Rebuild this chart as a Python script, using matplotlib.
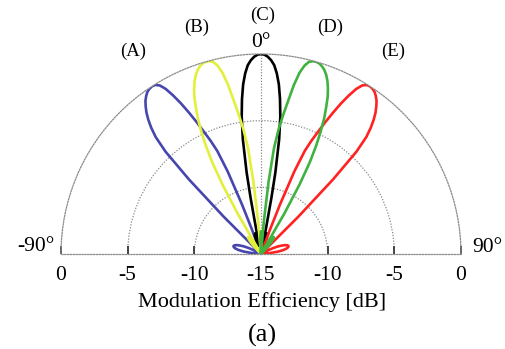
import numpy as np
import matplotlib
matplotlib.use("Agg")
import matplotlib.pyplot as plt
from matplotlib.transforms import offset_copy

plt.rcParams['font.family'] = ['Liberation Serif', 'DejaVu Serif']

# lobe outlines: angle [deg], efficiency [dB]
ang_a = [-86, -84, -82, -80, -78, -76, -74, -72, -70, -68, -66, -64, -62, -60, -58,
         -46, -45, -44, -43, -42, -41, -40, -39, -38, -37, -36, -35, -34, -33,
         -32, -31, -30, -29, -28, -27, -26, -25, -24, -23, -22, -21, -20.3, -20]
db_a = [-15, -14.3, -13.7, -13.3, -13.05, -12.9, -12.85, -12.9, -13.05, -13.3, -13.6, -14.0, -14.4, -14.8, -15,
        -15, -11, -7.2, -4.5, -3.2, -2.45, -1.85, -1.35, -0.95, -0.6, -0.35, -0.15, -0.05, 0,
        -0.05, -0.25, -0.7, -1.4, -2.2, -3.1, -4.0, -4.9, -5.7, -6.6, -8.3, -11, -13, -15]

ang_b = [-45, -43, -41, -39, -37, -35, -33, -32,
         -31, -30, -29, -28, -27, -26, -25, -24, -23, -22, -21, -20, -19, -18, -17, -16,
         -15, -14, -13, -12, -11, -10, -9, -8, -7, -6, -5, -4.5,
         -3, -2, -1, 0, 1, 2, 3, 4.5]
db_b = [-15, -14.3, -13.8, -13.5, -13.4, -13.6, -14.2, -15,
        -15, -11.5, -9, -7.2, -5.9, -4.8, -3.8, -3.0, -2.2, -1.6, -1.1, -0.7, -0.4, -0.2, -0.05, 0,
        -0.03, -0.15, -0.5, -1.1, -2.1, -3.4, -4.5, -5.6, -7.0, -9.5, -12.5, -15,
        -14, -13.7, -13.4, -13.3, -13.5, -13.8, -14.3, -15]

ang_c = [-22, -20, -18, -16.5, -15, -13, -11.5, -11, -10.5, -10, -9, -8, -7, -6, -5, -4, -3, -2, -1, 0,
         1, 2, 3, 4, 5, 6, 7, 8, 9, 10, 10.5, 11, 11.5, 13, 15, 16.5, 18, 20, 22]
db_c = [-15, -14, -13.5, -13.4, -13.6, -14.3, -15, -13, -10.7, -8.8, -6.3, -4.6, -3.3, -2.2, -1.4, -0.8, -0.45, -0.2, -0.05, 0,
        -0.05, -0.2, -0.45, -0.8, -1.4, -2.2, -3.3, -4.6, -6.3, -8.8, -10.7, -13, -15, -14.3, -13.6, -13.4, -13.5, -14, -15]

ang_d = [-4.5, -3, -2, -1, 0, 1, 2, 3, 4.5,
         5, 6, 7, 8, 9, 10, 11, 12, 13, 14, 15,
         16, 17, 18, 19, 20, 21, 22, 23, 24, 25, 26, 27, 28, 29, 30, 31,
         32, 33, 35, 37, 39, 41, 43, 45]
db_d = [-15, -14.3, -13.8, -13.5, -13.3, -13.4, -13.7, -14, -15,
        -12.5, -9.5, -7.0, -5.6, -4.5, -3.4, -2.1, -1.1, -0.5, -0.15, -0.03,
        0, -0.05, -0.2, -0.4, -0.7, -1.1, -1.6, -2.2, -3.0, -3.8, -4.8, -5.9, -7.2, -9, -11.5, -15,
        -15, -14.2, -13.6, -13.4, -13.5, -13.8, -14.3, -15]

ang_e = [20, 20.3, 21, 22, 23, 24, 25, 26, 27, 28, 29, 30, 31, 32, 33,
         34, 35, 36, 37, 38, 39, 40, 41, 42, 43, 44, 45, 46,
         58, 60, 62, 64, 66, 68, 70, 72, 74, 76, 78, 80, 82, 84, 86]
db_e = [-15, -13, -11, -8.3, -6.6, -5.7, -4.9, -4.0, -3.1, -2.2, -1.4, -0.7, -0.25, -0.05, 0,
        -0.05, -0.15, -0.35, -0.6, -0.95, -1.35, -1.85, -2.45, -3.2, -4.5, -7.2, -11, -15,
        -15, -14.8, -14.4, -14.0, -13.6, -13.3, -13.05, -12.9, -12.85, -12.9, -13.05, -13.3, -13.7, -14.3, -15]

lobe_names = ['(A)', '(B)', '(C)', '(D)', '(E)']
r_ticks = [0, -5, -10]

fig = plt.figure(figsize=(5.06, 3.49), dpi=100)
# square axes, half-disk centre sits at 1/4 of its height
ax = fig.add_axes([61 / 506, -5 / 349, 400 / 506, 400 / 349], projection='polar')
ax.set_theta_zero_location('N')
ax.set_theta_direction(-1)
ax.set_thetamin(-90)
ax.set_thetamax(90)
ax.set_ylim(-15, 0)

grid_kw = dict(color='#8a8a8a', linestyle=(0, (1, 1.3)), linewidth=0.9)
ax.set_rgrids([-10, -5], labels=['', ''])
ax.set_thetagrids([0], labels=[''])
ax.grid(True, **grid_kw)
for sp in ax.spines.values():
    sp.set_color('#8a8a8a')
    sp.set_linestyle((0, (1, 1.3)))
    sp.set_linewidth(0.9)
ax.tick_params(length=0)

series = [(ang_a, db_a, '#4646ae'), (ang_c, db_c, 'black'), (ang_b, db_b, '#e2f03c'),
          (ang_e, db_e, '#ff2222'), (ang_d, db_d, '#3fb23f')]
for ang, db, col in series:
    ax.plot(np.deg2rad(ang), db, color=col, lw=1.9, solid_joinstyle='round')

# baseline ticks and labels
for side in (-90, 90):
    ax.plot(np.deg2rad([side] * len(r_ticks)), r_ticks, linestyle='none', marker=2,
            markersize=6, mew=1.4, color='#444444', clip_on=False)
    for r in r_ticks:
        ax.text(np.deg2rad(side), r, f'{r:d}', ha='center', va='center', fontsize=15.5,
                transform=offset_copy(ax.transData, fig, y=-22, units='dots'))
ax.text(0, -15, '-15', ha='center', va='center', fontsize=15.5,
        transform=offset_copy(ax.transData, fig, y=-22, units='dots'))

ax.text(np.deg2rad(-90), 0, '-90°', ha='right', va='center', fontsize=15.5,
        transform=offset_copy(ax.transData, fig, x=-7, y=7, units='dots'))
ax.text(np.deg2rad(90), 0, '90°', ha='left', va='center', fontsize=15.5,
        transform=offset_copy(ax.transData, fig, x=11, y=7, units='dots'))
ax.text(0, 0, '0°', ha='center', va='baseline', fontsize=15.5,
        transform=offset_copy(ax.transData, fig, y=7, units='dots'))

label_xy = [(133, 51), (197, 27), (263, 15), (330, 27), (393, 51)]
for name, (x, y) in zip(lobe_names, label_xy):
    fig.text(x / 506, 1 - y / 349, name, ha='center', va='center', fontsize=13.5)

fig.text(262 / 506, 1 - 302 / 349, 'Modulation Efficiency [dB]', ha='center', va='center', fontsize=16)
fig.text(262 / 506, 1 - 335 / 349, '(a)', ha='center', va='center', fontsize=19)

fig.savefig('out.png', dpi=100)
